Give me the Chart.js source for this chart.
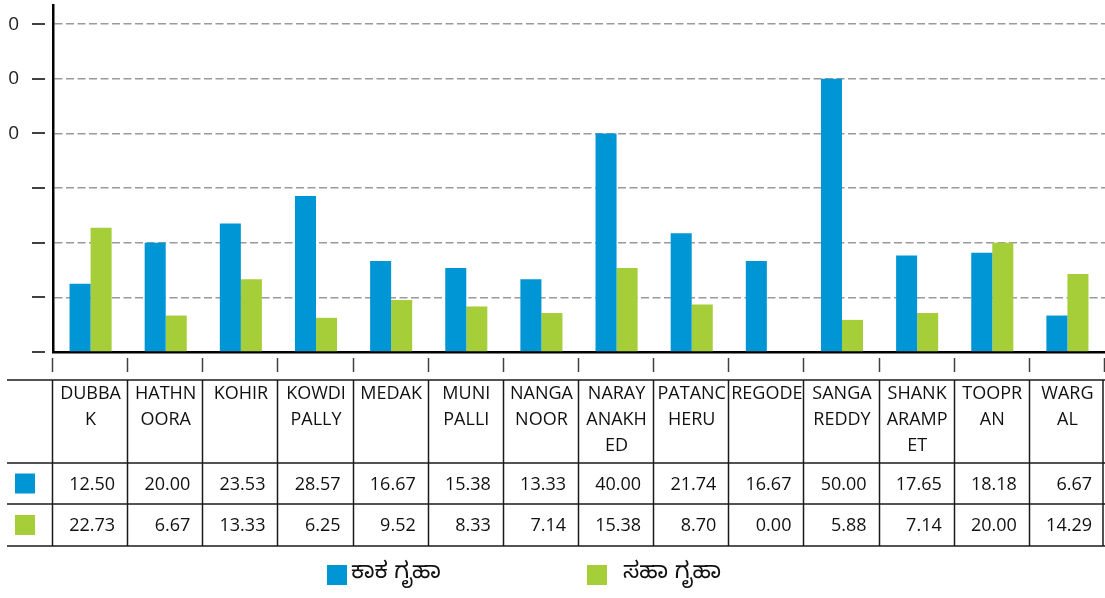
<!DOCTYPE html>
<html>
<head>
<meta charset="utf-8">
<script src="https://cdn.jsdelivr.net/npm/chart.js@4"></script>
<style>
  html, body { margin: 0; padding: 0; background: #fff; }
  #wrap { width: 1105px; height: 598px; position: relative; }
</style>
</head>
<body>
<div id="wrap"><canvas id="chart"></canvas></div>
<script>
// categories (wrapped as in the data table)
const categories = [
    ['DUBBA', 'K'], ['HATHN', 'OORA'], ['KOHIR'], ['KOWDI', 'PALLY'], ['MEDAK'],
    ['MUNI', 'PALLI'], ['NANGA', 'NOOR'], ['NARAY', 'ANAKH', 'ED'], ['PATANC', 'HERU'],
    ['REGODE'], ['SANGA', 'REDDY'], ['SHANK', 'ARAMP', 'ET'], ['TOOPR', 'AN'], ['WARG', 'AL']
];
const seriesNames = ['ಕಾಕ ಗೃಹಾ', 'ಸಹಾ ಗೃಹಾ'];
const blueValues = [12.50, 20.00, 23.53, 28.57, 16.67, 15.38, 13.33, 40.00, 21.74, 16.67, 50.00, 17.65, 18.18, 6.67];
const greenValues = [22.73, 6.67, 13.33, 6.25, 9.52, 8.33, 7.14, 15.38, 8.70, 0.00, 5.88, 7.14, 20.00, 14.29];
const yTicks = [0, 10, 20, 30, 40, 50, 60];
const yTickLabels = ['', '', '', '', '0', '0', '0'];   // labels are clipped in the original

const BLUE = '#0096d6';
const GREEN = '#a6ce39';
const FONT = "'Open Sans', 'Liberation Sans', sans-serif";

// draws the y tick marks, x tick marks, data table and bottom legend
const tablePlugin = {
    id: 'dataTable',
    afterDraw(chart) {
        const ctx = chart.ctx;
        const xs = chart.scales.x;
        const ys = chart.scales.y;
        const area = chart.chartArea;
        const n = categories.length;
        const step = xs.width / n;
        const edge = i => xs.getPixelForValue(i) - step / 2;

        ctx.save();

        // short tick marks on the y axis
        ctx.strokeStyle = '#404040';
        ctx.lineWidth = 2;
        ys.ticks.forEach(t => {
            const py = Math.round(ys.getPixelForValue(t.value));
            ctx.beginPath();
            ctx.moveTo(ys.right - 21, py);
            ctx.lineTo(ys.right - 8, py);
            ctx.stroke();
        });

        // tick marks under the x axis
        ctx.lineWidth = 1.5;
        for (let i = 0; i <= n; i++) {
            const px = Math.round(edge(i)) - 0.5;
            ctx.beginPath();
            ctx.moveTo(px, area.bottom + 6);
            ctx.lineTo(px, area.bottom + 20);
            ctx.stroke();
        }

        // table grid
        const top = area.bottom + 28;
        const rowTops = [top, top + 83, top + 124, top + 166];
        ctx.strokeStyle = '#1a1a1a';
        ctx.lineWidth = 1.5;
        rowTops.forEach(ry => {
            ctx.beginPath();
            ctx.moveTo(7, ry);
            ctx.lineTo(area.right, ry);
            ctx.stroke();
        });
        for (let i = 0; i <= n; i++) {
            const px = Math.min(Math.round(edge(i)) - 0.5, area.right - 2);
            ctx.beginPath();
            ctx.moveTo(px, top);
            ctx.lineTo(px, rowTops[3]);
            ctx.stroke();
        }

        // header labels
        ctx.fillStyle = '#111';
        ctx.font = '18px ' + FONT;
        ctx.textAlign = 'center';
        ctx.textBaseline = 'middle';
        categories.forEach((lines, i) => {
            const cx = xs.getPixelForValue(i);
            lines.forEach((ln, k) => ctx.fillText(ln, cx, top + 14 + k * 26));
        });

        // value rows
        ctx.textAlign = 'right';
        [blueValues, greenValues].forEach((vals, r) => {
            const cy = (rowTops[r + 1] + rowTops[r + 2]) / 2;
            vals.forEach((v, i) => ctx.fillText(v.toFixed(2), edge(i + 1) - 13, cy + 1));
            ctx.fillStyle = r === 0 ? BLUE : GREEN;
            ctx.fillRect(15, cy - 10, 20, 20);
            ctx.fillStyle = '#111';
        });

        // bottom legend
        const ly = 565;
        ctx.textAlign = 'left';
        ctx.font = "23px 'Noto Sans Kannada', 'Noto Sans', 'DejaVu Sans', sans-serif";
        ctx.fillStyle = BLUE;
        ctx.fillRect(327, ly, 20, 20);
        ctx.fillStyle = '#111';
        ctx.fillText(seriesNames[0], 351, ly + 11);
        ctx.fillStyle = GREEN;
        ctx.fillRect(587, ly, 20, 20);
        ctx.fillStyle = '#111';
        ctx.fillText(seriesNames[1], 623, ly + 11);

        ctx.restore();
    }
};

const chart = new Chart(document.getElementById('chart'), {
    type: 'bar',
    data: {
        labels: categories,
        datasets: [
            { label: seriesNames[0], data: blueValues, backgroundColor: BLUE },
            { label: seriesNames[1], data: greenValues, backgroundColor: GREEN }
        ]
    },
    options: {
        responsive: true,
        maintainAspectRatio: false,
        animation: false,
        layout: { padding: { top: 5, right: 0, bottom: 246, left: 0 } },
        plugins: {
            legend: { display: false },
            tooltip: { enabled: false }
        },
        datasets: {
            bar: { categoryPercentage: 0.56, barPercentage: 1.0 }
        },
        scales: {
            x: {
                ticks: { display: false },
                grid: { display: false, drawTicks: false },
                border: { display: true, color: '#000', width: 2.5 },
                afterFit: s => { s.height = 0; s.paddingLeft = 0; s.paddingRight = 0; }
            },
            y: {
                min: 0,
                max: 63.5,
                afterBuildTicks: s => { s.ticks = yTicks.map(v => ({ value: v })); },
                ticks: {
                    padding: 34,
                    color: '#222',
                    font: { family: FONT, size: 19 },
                    callback: (v) => yTickLabels[yTicks.indexOf(v)] ?? ''
                },
                grid: { color: '#9a9a9a', lineWidth: 1.5, drawTicks: false },
                border: { display: true, color: '#000', width: 2.5, dash: [8, 3.5] },
                afterFit: s => { s.width = 53; s.paddingTop = 0; s.paddingBottom = 0; }
            }
        }
    },
    plugins: [tablePlugin]
});
</script>
</body>
</html>
